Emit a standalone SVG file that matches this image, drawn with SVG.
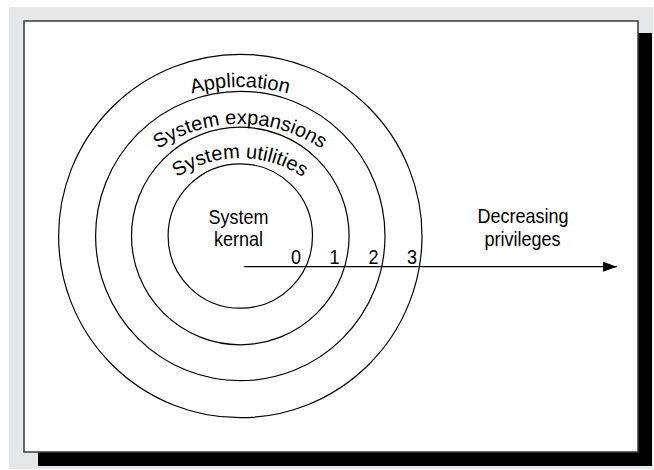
<svg xmlns="http://www.w3.org/2000/svg" width="654" height="470" viewBox="0 0 654 470">
<style>
.ring{fill:none;stroke:#000;stroke-width:1.2}
.t{font-family:"Liberation Sans",Arial,sans-serif;font-size:20px;fill:#000}
.c{text-anchor:middle}
</style>
<defs>
<marker id="ah" markerWidth="14" markerHeight="10" refX="14" refY="5" orient="auto" markerUnits="userSpaceOnUse">
<path d="M0,0 L14,5 L0,10 Z" fill="#000"/>
</marker>
<path id="arcA" d="M57,270 A183,183 0 0 1 423,270"/>
<path id="arcE" d="M94,270 A146,146 0 0 1 386,270"/>
<path id="arcU" d="M128,270 A112,112 0 0 1 352,270"/>
</defs>
<rect x="9" y="7" width="644" height="462" fill="#e6e7e8"/>
<rect x="38" y="33" width="614" height="433" fill="#000"/>
<rect x="24" y="21" width="614" height="431" fill="#fff" stroke="#3a3a3a" stroke-width="1.5"/>
<g id="ring3"><circle class="ring" cx="240.3" cy="236" r="181.7"/>
<text class="t c"><textPath href="#arcA" startOffset="50%">Application</textPath></text></g>
<g id="ring2"><circle class="ring" cx="240.3" cy="236" r="144.7"/>
<text class="t c"><textPath href="#arcE" startOffset="50%">System expansions</textPath></text></g>
<g id="ring1"><circle class="ring" cx="240.3" cy="236" r="108.8"/>
<text class="t c"><textPath href="#arcU" startOffset="50%">System utilities</textPath></text></g>
<g id="kernel"><circle class="ring" cx="240.3" cy="236" r="72.2"/>
<text class="t c" transform="translate(238.5,224) scale(0.9,1)">System</text>
<text class="t c" transform="translate(238.5,246) scale(0.9,1)">kernal</text></g>
<g id="levels">
<text class="t c" transform="translate(296,264) scale(0.9,1)">0</text>
<text class="t c" transform="translate(334.5,264) scale(0.9,1)">1</text>
<text class="t c" transform="translate(373.5,264) scale(0.9,1)">2</text>
<text class="t c" transform="translate(412,264) scale(0.9,1)">3</text>
</g>
<g id="label"><text class="t c" transform="translate(523,223) scale(0.9,1)">Decreasing</text>
<text class="t c" transform="translate(522.5,246) scale(0.9,1)">privileges</text></g>
<g id="connectors"><line x1="244" y1="266.7" x2="617" y2="266.7" stroke="#000" stroke-width="1.2" marker-end="url(#ah)"/></g>
</svg>
